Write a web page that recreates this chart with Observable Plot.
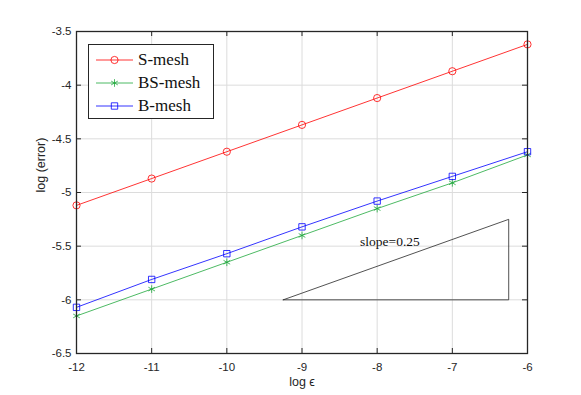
<!DOCTYPE html>
<html>
<head>
<meta charset="utf-8">
<script src="https://cdn.jsdelivr.net/npm/d3@7"></script>
<script src="https://cdn.jsdelivr.net/npm/@observablehq/plot@0.6"></script>
<style>
  html, body { margin: 0; padding: 0; background: #fff; }
  #wrap { position: relative; width: 581px; height: 395px; }
  #legend { position: absolute; left: 88px; top: 44px; width: 124px; height: 73px;
    border: 1px solid #262626; background: #fff; box-sizing: content-box;
    font-family: "Liberation Serif", "DejaVu Serif", serif; font-size: 17px; color: #111; }
  .row { position: absolute; left: 0; height: 20px; display: flex; align-items: center; }
  .row svg { display: block; }
  .row span { margin-left: 5px; line-height: 20px; }
</style>
</head>
<body>
<div id="wrap"><div id="chart"></div><div id="legend"></div></div>
<script>
// Data
const logEps = [-12, -11, -10, -9, -8, -7, -6];
const sMesh  = [-5.12, -4.87, -4.62, -4.37, -4.12, -3.87, -3.62];
const bsMesh = [-6.15, -5.90, -5.65, -5.40, -5.15, -4.91, -4.65];
const bMesh  = [-6.07, -5.81, -5.57, -5.32, -5.08, -4.85, -4.62];
const seriesNames = ["S-mesh", "BS-mesh", "B-mesh"];
const xTicks = [-12, -11, -10, -9, -8, -7, -6];
const yTicks = [-6.5, -6, -5.5, -5, -4.5, -4, -3.5];
const triX = [-9.25, -6.25, -6.25, -9.25];
const triY = [-6, -6, -5.25, -6];
const slopeLabel = ["slope=0.25"];
const slopeLabelX = [-7.83];
const slopeLabelY = [-5.46];
const xLabel = ["log ϵ"];
const yLabel = ["log (error)"];

const colors = {"S-mesh": "#ff0000", "BS-mesh": "#1fa83c", "B-mesh": "#0000ff"};
const symbols = {"S-mesh": "circle", "BS-mesh": "asterisk", "B-mesh": "square"};
const sizes = {"S-mesh": 3.6, "BS-mesh": 3.6, "B-mesh": 3.6};

const series = [sMesh, bsMesh, bMesh];
const rows = [];
series.forEach((vals, i) => vals.forEach((v, j) => rows.push({x: logEps[j], y: v, s: seriesNames[i]})));
const tri = triX.map((x, i) => ({x, y: triY[i]}));
const labelRows = slopeLabel.map((t, i) => ({t, x: slopeLabelX[i], y: slopeLabelY[i]}));

const W = 581, H = 395;
const mL = 76, mR = 54, mT = 31, mB = 42;
const iw = W - mL - mR, ih = H - mT - mB;
const axisColor = "#262626";
const tickFont = "Liberation Sans, Arial, sans-serif";

const marks = [
  Plot.gridX(xTicks, {stroke: "#dcdcdc", strokeOpacity: 1, strokeWidth: 1}),
  Plot.gridY(yTicks, {stroke: "#dcdcdc", strokeOpacity: 1, strokeWidth: 1}),
];
for (const s of seriesNames) {
  const d = rows.filter(r => r.s === s);
  marks.push(Plot.line(d, {x: "x", y: "y", stroke: colors[s], strokeWidth: 0.8}));
  marks.push(Plot.dot(d, {x: "x", y: "y", stroke: colors[s], symbol: symbols[s], r: sizes[s], strokeWidth: 0.8, fill: "none"}));
}
marks.push(Plot.line(tri, {x: "x", y: "y", stroke: axisColor, strokeWidth: 0.8}));
marks.push(Plot.text(labelRows, {x: "x", y: "y", text: "t", fontFamily: "Liberation Serif, serif", fontSize: 13.5, fill: "#111"}));
// inward ticks on all four sides
marks.push(Plot.tickX(xTicks, {x: d => d, stroke: axisColor, insetTop: ih - 5}));
marks.push(Plot.tickX(xTicks, {x: d => d, stroke: axisColor, insetBottom: ih - 5}));
marks.push(Plot.tickY(yTicks, {y: d => d, stroke: axisColor, insetRight: iw - 5}));
marks.push(Plot.tickY(yTicks, {y: d => d, stroke: axisColor, insetLeft: iw - 5}));
marks.push(Plot.frame({stroke: axisColor, strokeWidth: 1.3}));
marks.push(Plot.axisX(xTicks, {tickSize: 0, tickPadding: 9, tickFormat: d => String(d), fontSize: 11.5, fill: "#262626", label: null}));
marks.push(Plot.axisY(yTicks, {tickSize: 0, tickPadding: 5, tickFormat: d => String(d), fontSize: 11.5, fill: "#262626", label: null}));
marks.push(Plot.text(xLabel, {text: d => d, frameAnchor: "bottom", dy: 32, fontSize: 12.5, fill: "#262626"}));
marks.push(Plot.text(yLabel, {text: d => d, frameAnchor: "left", dx: -36, rotate: -90, fontSize: 12.5, fill: "#262626"}));

const chart = Plot.plot({
  width: W, height: H,
  marginLeft: mL, marginRight: mR, marginTop: mT, marginBottom: mB,
  style: {fontFamily: tickFont, fontSize: "11.5px", background: "#fff", color: "#262626"},
  x: {domain: [-12, -6]},
  y: {domain: [-6.5, -3.5]},
  marks
});
document.getElementById("chart").appendChild(chart);

// legend
const legend = document.getElementById("legend");
const legendTops = [5, 28, 51];
const symMap = {circle: d3.symbolCircle, asterisk: d3.symbolAsterisk, square: d3.symbolSquare};
seriesNames.forEach((s, i) => {
  const row = document.createElement("div");
  row.className = "row";
  row.style.top = legendTops[i] + "px";
  row.style.left = "7px";
  const svg = d3.create("svg").attr("width", 37).attr("height", 20);
  svg.append("line").attr("x1", 0).attr("x2", 37).attr("y1", 10).attr("y2", 10)
    .attr("stroke", colors[s]).attr("stroke-width", 0.8);
  const rr = sizes[s];
  svg.append("path").attr("transform", "translate(18.5,10)")
    .attr("d", d3.symbol(symMap[symbols[s]], Math.PI * rr * rr)())
    .attr("fill", "none").attr("stroke", colors[s]).attr("stroke-width", 0.8);
  row.appendChild(svg.node());
  const t = document.createElement("span");
  t.textContent = s;
  row.appendChild(t);
  legend.appendChild(row);
});
</script>
</body>
</html>
